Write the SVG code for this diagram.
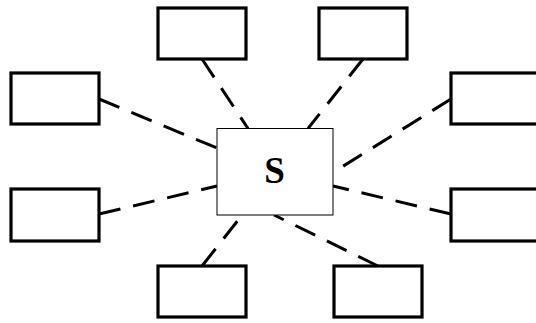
<svg xmlns="http://www.w3.org/2000/svg" width="536" height="323" viewBox="0 0 536 323">
<style>
.box{fill:#fff;stroke:#000;stroke-width:3.2}
.ctr{fill:#fff;stroke:#000;stroke-width:1}
.ln{fill:none;stroke:#000;stroke-width:3;stroke-dasharray:22 13}
text{font-family:"Liberation Serif","Times New Roman",serif;font-weight:bold;font-size:37px}
</style>
<rect width="536" height="323" fill="#fff"/>
<g id="connectors">
<path class="ln" d="M202,59 L248,128.5"/>
<path class="ln" d="M363,59 L308,128.5"/>
<path class="ln" d="M99,99 L217,148"/>
<path class="ln" d="M99,214 L217,186"/>
<path class="ln" d="M451,99 L337,170"/>
<path class="ln" d="M451,214 L333,186"/>
<path class="ln" d="M202,266 L239,219"/>
<path class="ln" d="M378,266 L274,215"/>
</g>
<g id="S"><rect class="ctr" x="217" y="128.5" width="116" height="86.5"/><text x="274.5" y="183" text-anchor="middle">S</text></g>
<g id="n1"><rect class="box" x="158" y="8" width="88" height="51"/></g>
<g id="n2"><rect class="box" x="319" y="8" width="88" height="51"/></g>
<g id="n3"><rect class="box" x="11" y="73" width="88" height="51"/></g>
<g id="n4"><rect class="box" x="11" y="189" width="88" height="52"/></g>
<g id="n5"><rect class="box" x="451" y="73" width="88" height="51"/></g>
<g id="n6"><rect class="box" x="451" y="189" width="88" height="52"/></g>
<g id="n7"><rect class="box" x="158" y="266" width="88" height="51"/></g>
<g id="n8"><rect class="box" x="334" y="266" width="88" height="51"/></g>
</svg>
